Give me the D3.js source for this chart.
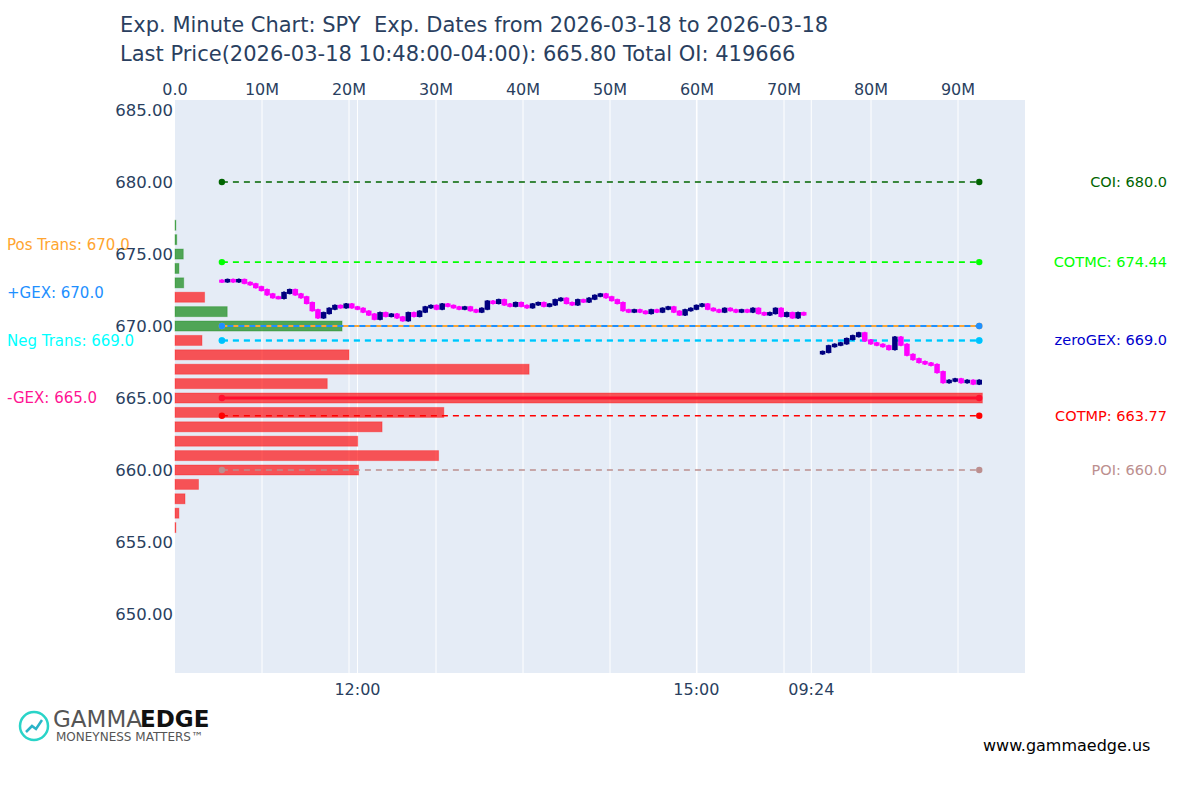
<!DOCTYPE html><html><head><meta charset="utf-8"><script src="https://cdn.jsdelivr.net/npm/d3@7"></script>
<style>body{margin:0;background:#fff}text{font-family:"DejaVu Sans",sans-serif;white-space:pre}</style></head><body><svg id="c" width="1200" height="800"></svg>
<script>
const strikes=[677,676,675,674,673,672,671,670,669,668,667,666,665,664,663,662,661,660,659,658,657,656];
const gexM=[0.1,0.2,0.95,0.45,1.0,-3.4,6.0,19.2,-3.1,-20.0,-40.7,-17.5,-92.8,-30.9,-23.8,-21.0,-30.3,-21.1,-2.7,-1.15,-0.45,-0.1];
const day1Close=[673.1,673.2,673.1,673.2,673.0,672.9,672.7,672.5,672.2,672.0,
671.95,672.3,672.5,672.2,672.0,671.6,671.1,670.6,670.9,671.2,
671.4,671.3,671.5,671.3,671.2,671.0,670.8,670.5,670.9,670.7,
670.8,670.6,670.4,670.9,670.7,671.0,671.3,671.4,671.2,671.5,
671.4,671.3,671.2,671.3,671.1,671.0,671.2,671.7,671.6,671.8,
671.5,671.4,671.6,671.4,671.3,671.5,671.6,671.4,671.5,671.8,
671.9,671.6,671.5,671.8,671.7,671.9,672.1,672.2,672.0,671.8,
671.6,671.1,671.0,671.1,671.0,670.9,671.1,671.0,671.2,671.3,
671.0,670.8,671.1,671.2,671.4,671.5,671.2,671.1,671.0,671.2,
671.1,671.0,671.1,671.0,671.2,670.9,670.8,670.9,671.2,670.7,
670.9,670.6,670.9,670.8];
const day2Close=[668.2,668.6,668.7,668.8,669.1,669.3,669.5,669.0,668.8,668.7,668.6,668.4,669.2,668.7,668.0,667.7,667.5,667.4,667.3,666.8,666.1,666.2,666.3,666.1,666.2,666.0,666.2];
const yTicks=[650,655,660,665,670,675,680,685];
const xTopTicks=[0,10,20,30,40,50,60,70,80,90];
const xTopLabels=["0.0","10M","20M","30M","40M","50M","60M","70M","80M","90M"];
const timeTicks=[73,253,314];
const timeLabels=["12:00","15:00","09:24"];
const levels=[
 {v:680,c:"darkgreen",d:"6,5",w:1.6,side:"r",label:"COI: 680.0",lc:"darkgreen"},
 {v:674.44,c:"lime",d:"6,5",w:1.6,side:"r",label:"COTMC: 674.44",lc:"lime"},
 {v:670,c:"#ffa530",d:"6,5",w:2,side:"l",label:"Pos Trans: 670.0",lc:"#ffa530",off:0},
 {v:670,c:"dodgerblue",d:"6,5",w:2,side:"l",label:"+GEX: 670.0",lc:"dodgerblue",off:5.5},
 {v:669,c:"cyan",d:"6,5",w:2,side:"l",label:"Neg Trans: 669.0",lc:"cyan"},
 {v:669,c:"deepskyblue",d:"6,5",w:2,side:"r",label:"zeroGEX: 669.0",lc:"mediumblue"},
 {v:665,c:"#ff1030",d:null,w:3,side:"l",label:"-GEX: 665.0",lc:"deeppink"},
 {v:663.77,c:"red",d:"6,5",w:1.6,side:"r",label:"COTMP: 663.77",lc:"red"},
 {v:660,c:"rosybrown",d:"6,5",w:1.6,side:"r",label:"POI: 660.0",lc:"rosybrown"}];
const leftLabY={"Pos Trans: 670.0":245,"+GEX: 670.0":293,"Neg Trans: 669.0":341,"-GEX: 665.0":398};

const svg=d3.select("#c");
const L=175,R=1025,T=100,B=673;
const y=d3.scaleLinear().domain([645.9,685.7]).range([B,T]);
const xb=d3.scaleLinear().domain([0,97.7]).range([L,R]);
const xt=d3.scaleLinear().domain([-23.9,427.5]).range([L,R]);
svg.append("rect").attr("x",L).attr("y",T).attr("width",R-L).attr("height",B-T).attr("fill","#e5ecf6");
const g=svg.append("g");
xTopTicks.forEach(t=>{if(t>0)g.append("line").attr("x1",xb(t)).attr("x2",xb(t)).attr("y1",T).attr("y2",B).attr("stroke","#fff").attr("stroke-width",1);});
timeTicks.forEach(t=>g.append("line").attr("x1",xt(t)).attr("x2",xt(t)).attr("y1",T).attr("y2",B).attr("stroke","#fff").attr("stroke-width",1));
g.selectAll(".bar").data(strikes).enter().append("rect")
 .attr("x",L).attr("y",(d)=>y(d)-5).attr("height",10)
 .attr("width",(d,i)=>xb(Math.abs(gexM[i]))-L)
 .attr("fill",(d,i)=>gexM[i]>=0?"green":"red").attr("fill-opacity",0.65)
 .attr("stroke",(d,i)=>gexM[i]>=0?"green":"red").attr("stroke-opacity",0.3);
const bars=[];
day1Close.forEach((c,i)=>bars.push({t:i*3+1,c,o:i?day1Close[i-1]:c+0.05}));
day2Close.forEach((c,i)=>bars.push({t:320+i*3.2,c,o:i?day2Close[i-1]:c-0.1}));
const t0=bars[0].t,t1=bars[bars.length-1].t;
levels.forEach(l=>{
 const ln=g.append("line").attr("x1",xt(t0)).attr("x2",xt(t1)).attr("y1",y(l.v)).attr("y2",y(l.v)).attr("stroke",l.c).attr("stroke-width",l.w);
 if(l.d)ln.attr("stroke-dasharray",l.d).attr("stroke-dashoffset",l.off||0);
 [t0,t1].forEach(t=>g.append("circle").attr("cx",xt(t)).attr("cy",y(l.v)).attr("r",3.2).attr("fill",l.c));
 if(l.side==="r")svg.append("text").attr("x",1167).attr("y",y(l.v)+5).attr("text-anchor","end").attr("font-size",14.5).attr("fill",l.lc).text(l.label);
 else svg.append("text").attr("x",7).attr("y",leftLabY[l.label]+5).attr("font-size",15).attr("fill",l.lc).text(l.label);
});
const cw=5.5;
bars.forEach(b=>{
 const up=b.c>=b.o,col=up?"#000080":"magenta";
 const hi=Math.max(b.o,b.c)+0.1,lo=Math.min(b.o,b.c)-0.1;
 g.append("line").attr("x1",xt(b.t)).attr("x2",xt(b.t)).attr("y1",y(hi)).attr("y2",y(lo)).attr("stroke",col).attr("stroke-width",2);
 g.append("rect").attr("x",xt(b.t)-cw/2).attr("width",cw).attr("y",y(Math.max(b.o,b.c))-1).attr("height",Math.max(3,y(Math.min(b.o,b.c))-y(Math.max(b.o,b.c))+2)).attr("fill",col);
});
yTicks.forEach(t=>svg.append("text").attr("x",173).attr("y",y(t)+6).attr("text-anchor","end").attr("font-size",16.5).attr("fill","#2a3f5f").text(t.toFixed(2)));
xTopTicks.forEach((t,i)=>svg.append("text").attr("x",xb(t)).attr("y",95).attr("text-anchor","middle").attr("font-size",16).attr("fill","#2a3f5f").text(xTopLabels[i]));
timeTicks.forEach((t,i)=>svg.append("text").attr("x",xt(t)).attr("y",695).attr("text-anchor","middle").attr("font-size",16).attr("fill","#2a3f5f").text(timeLabels[i]));
svg.append("text").attr("x",120).attr("y",32).attr("font-size",21).attr("fill","#2a3f5f").text("Exp. Minute Chart: SPY\u00a0\u00a0Exp. Dates from 2026-03-18 to 2026-03-18");
svg.append("text").attr("x",120).attr("y",61).attr("font-size",21).attr("fill","#2a3f5f").text("Last Price(2026-03-18 10:48:00-04:00): 665.80 Total OI: 419666");
svg.append("text").attr("x",983).attr("y",751).attr("font-size",16).attr("fill","#000").text("www.gammaedge.us");
svg.append("circle").attr("cx",34).attr("cy",726).attr("r",14).attr("fill","none").attr("stroke","#2ad4c8").attr("stroke-width",2.5);
svg.append("path").attr("d","M26,732 L32,726 L36,729 L42,720").attr("fill","none").attr("stroke","#2ab4c8").attr("stroke-width",2.5);
svg.append("text").attr("x",53).attr("y",727).attr("font-size",23).attr("fill","#555").text("GAMMA");
svg.append("text").attr("x",140).attr("y",727).attr("font-size",23).attr("font-weight","bold").attr("fill","#111").text("EDGE");
svg.append("text").attr("x",56).attr("y",741).attr("font-size",12).attr("fill","#555").text("MONEYNESS MATTERS™");
</script></body></html>
